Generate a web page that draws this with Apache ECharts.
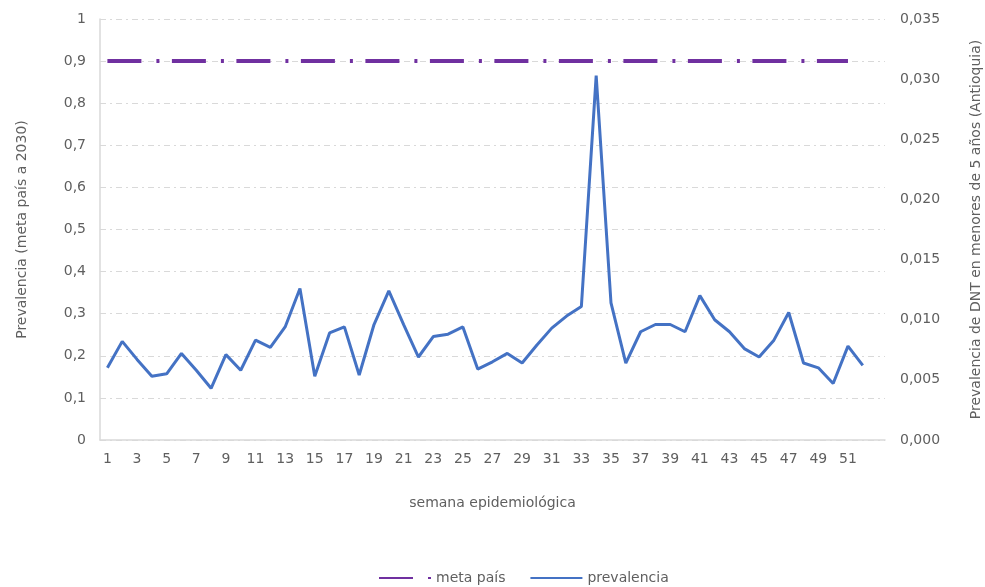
<!DOCTYPE html>
<html>
<head>
<meta charset="utf-8">
<script src="https://cdn.jsdelivr.net/npm/echarts@6/dist/echarts.min.js"></script>
<style>html,body{margin:0;padding:0;background:#fff}#c{width:985px;height:587px}</style>
</head>
<body>
<div id="c"></div>
<script>
const weeks = ['1','2','3','4','5','6','7','8','9','10','11','12','13','14','15','16','17','18','19','20','21','22','23','24','25','26','27','28','29','30','31','32','33','34','35','36','37','38','39','40','41','42','43','44','45','46','47','48','49','50','51','52',''];
const prevalencia = [0.0060,0.0082,0.0067,0.0053,0.0055,0.0072,0.0058,0.0043,0.0071,0.0058,0.0083,0.0077,0.0094,0.0126,0.0053,0.0089,0.0094,0.0054,0.0096,0.0124,0.0096,0.0069,0.0086,0.0088,0.0094,0.0059,0.0065,0.0072,0.0064,0.0079,0.0093,0.0103,0.0111,0.0303,0.0114,0.0064,0.0090,0.0096,0.0096,0.0090,0.0120,0.0100,0.0090,0.0076,0.0069,0.0083,0.0106,0.0064,0.0060,0.0047,0.0078,0.0062,null];
const metaPais = [0.9,0.9,0.9,0.9,0.9,0.9,0.9,0.9,0.9,0.9,0.9,0.9,0.9,0.9,0.9,0.9,0.9,0.9,0.9,0.9,0.9,0.9,0.9,0.9,0.9,0.9,0.9,0.9,0.9,0.9,0.9,0.9,0.9,0.9,0.9,0.9,0.9,0.9,0.9,0.9,0.9,0.9,0.9,0.9,0.9,0.9,0.9,0.9,0.9,0.9,0.9,null,null];
const seriesNames = ['meta país','prevalencia'];
const leftName = 'Prevalencia (meta país a 2030)';
const rightName = 'Prevalencia de DNT en menores de 5 años (Antioquia)';
const xName = 'semana epidemiológica';

const txt = '#5f5f5f';
const font = 'DejaVu Sans';
const chart = echarts.init(document.getElementById('c'), null, {renderer:'canvas'});
chart.setOption({
  animation:false,
  textStyle:{fontFamily:font,color:txt},
  grid:{left:100,right:100,top:19,bottom:147,containLabel:false,outerBoundsMode:'none'},
  legend:{
    top:566,left:373,itemWidth:52,itemHeight:12,itemGap:24,
    itemStyle:{opacity:0},
    textStyle:{fontFamily:font,fontSize:14,color:txt},
    data:seriesNames
  },
  xAxis:{
    type:'category',data:weeks,boundaryGap:true,
    name:xName,nameLocation:'middle',nameGap:56,
    nameTextStyle:{fontFamily:font,fontSize:14,color:txt},
    axisLine:{lineStyle:{color:'#d9d9d9',width:1.5}},
    axisTick:{show:false},
    axisLabel:{interval:1,margin:12,fontFamily:font,fontSize:14,color:txt}
  },
  yAxis:[{
    type:'value',min:0,max:1,interval:0.1,
    name:leftName,nameLocation:'middle',nameGap:71,
    nameTextStyle:{fontFamily:font,fontSize:14,color:txt},
    axisLine:{show:true,lineStyle:{color:'#d9d9d9',width:1.5}},
    axisTick:{show:false},
    axisLabel:{margin:14,fontFamily:font,fontSize:14,color:txt,
      formatter:v=>{const r=Math.round(v*10)/10; return (r===0||r===1)?String(r):r.toFixed(1).replace('.',',');}},
    splitLine:{show:true,lineStyle:{color:'#d9d9d9',width:1,type:[6,4,2,4]}}
  },{
    type:'value',min:0,max:0.035,interval:0.005,position:'right',
    name:rightName,nameLocation:'middle',nameGap:84,
    nameTextStyle:{fontFamily:font,fontSize:14,color:txt},
    axisLine:{show:false},
    axisTick:{show:false},
    axisLabel:{margin:15,fontFamily:font,fontSize:14,color:txt,
      formatter:v=>v.toFixed(3).replace('.',',')},
    splitLine:{show:false}
  }],
  series:[{
    name:seriesNames[0],type:'line',yAxisIndex:0,data:metaPais,
    symbol:'none',showSymbol:false,
    lineStyle:{color:'#7030A0',width:4,type:[34,15,3,12.5]},
    itemStyle:{color:'#7030A0'}
  },{
    name:seriesNames[1],type:'line',yAxisIndex:1,data:prevalencia,
    symbol:'none',showSymbol:false,
    lineStyle:{color:'#4472C4',width:3},
    itemStyle:{color:'#4472C4'}
  }]
});
</script>
</body>
</html>
